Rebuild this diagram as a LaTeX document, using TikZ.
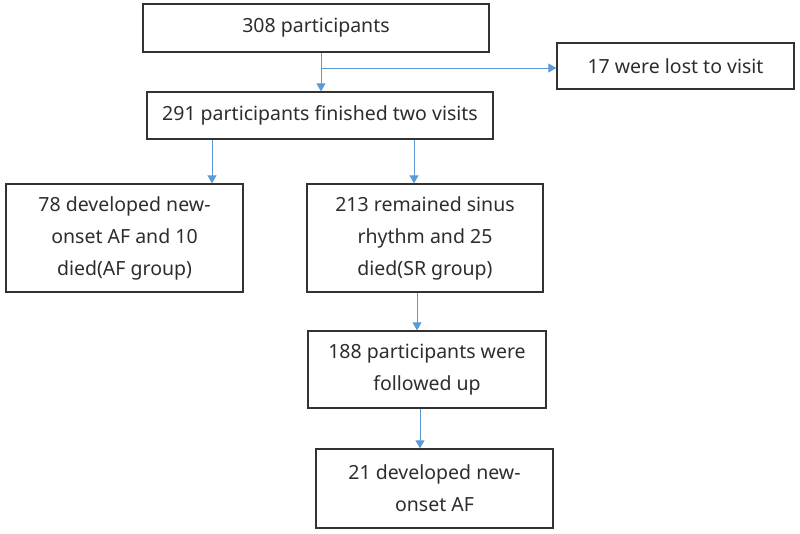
\documentclass[tikz,border=0pt]{standalone}
\usepackage{fontspec}
\setmainfont{Noto Sans}
\usetikzlibrary{arrows.meta}
\definecolor{arrblue}{RGB}{91,155,213}
\definecolor{boxline}{RGB}{50,50,50}
\definecolor{txt}{RGB}{45,45,45}
\begin{document}
\begin{tikzpicture}[x=1pt,y=-1pt,
  box/.style={draw=boxline,line width=1.3pt,inner sep=0pt,align=center,
    text=txt,font=\fontsize{19.5}{32}\selectfont},
  arr/.style={draw=arrblue,line width=0.9pt,-{Triangle[width=9pt,length=8pt]}}]
\useasboundingbox (0,0) rectangle (800,533);
\node[box,minimum width=346pt,minimum height=48pt] (top) at (316,28) {308 participants};
\node[box,minimum width=237pt,minimum height=46pt] (lost) at (675.5,66) {17 were lost to visit};
\node[box,minimum width=346pt,minimum height=47pt] (b2) at (320,115.5) {291 participants finished two visits};
\node[box,minimum width=237pt,minimum height=108pt] (left) at (124.5,238) {78 developed new-\\onset AF and 10\\died(AF group)};
\node[box,minimum width=236pt,minimum height=108pt] (mid) at (425,238) {213 remained sinus\\rhythm and 25\\died(SR group)};
\node[box,minimum width=238pt,minimum height=77pt] (f188) at (427,369.5) {188 participants were\\followed up};
\node[box,minimum width=237pt,minimum height=79pt] (f21) at (434.5,488.5) {21 developed new-\\onset AF};
\coordinate (br) at (321,68);
\coordinate (xa) at (212,0);
\coordinate (xb) at (414,0);
\coordinate (xc) at (417,0);
\coordinate (xd) at (420,0);
\draw[arr] (br |- top.south) -- (br |- b2.north);
\draw[arr] (br) -- (lost.west |- br);
\draw[arr] (xa |- b2.south) -- (xa |- left.north);
\draw[arr] (xb |- b2.south) -- (xb |- mid.north);
\draw[arr] (xc |- mid.south) -- (xc |- f188.north);
\draw[arr] (xd |- f188.south) -- (xd |- f21.north);
\end{tikzpicture}
\end{document}
